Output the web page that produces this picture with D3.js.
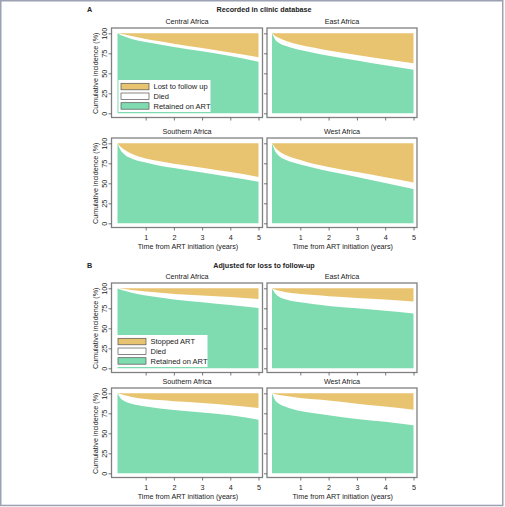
<!DOCTYPE html>
<html>
<head>
<meta charset="utf-8">
<script src="https://cdn.jsdelivr.net/npm/d3@7"></script>
<style>
  html, body { margin: 0; padding: 0; background: #fff; }
  svg { display: block; }
  text { font-family: "Liberation Sans", Arial, sans-serif; fill: #222; }
</style>
</head>
<body>
<svg id="chart" width="505" height="507"></svg>
<script>
// ---------- data ----------
const times = [0, 0.1, 0.25, 0.5, 1, 1.5, 2, 3, 4, 5];
const regions = ["Central Africa", "East Africa", "Southern Africa", "West Africa"];
const yTicks = [0, 25, 50, 75, 100];
const xTicks = [1, 2, 3, 4, 5];
const sectionLetters = ["A", "B"];
const sectionTitles = ["Recorded in clinic database", "Adjusted for loss to follow-up"];
const legendA = ["Lost to follow up", "Died", "Retained on ART"];
const legendB = ["Stopped ART", "Died", "Retained on ART"];

// Panel A: recorded in clinic database (retained = top of green; alive = retained + died)
const retainedRecCentral  = [100, 98, 96, 93, 89, 86, 83, 77.5, 71.5, 64.5];
const aliveRecCentral     = [100, 99.5, 98.5, 96.5, 93, 90, 87, 81.5, 76, 70];
const retainedRecEast     = [100, 93, 88, 84, 79, 75.5, 72, 66, 60, 54.5];
const aliveRecEast        = [100, 97, 94, 90.5, 85.5, 82, 78.5, 73, 67.5, 62.5];
const retainedRecSouthern = [100, 92, 86, 81, 76, 72, 69, 63.5, 58, 52];
const aliveRecSouthern    = [100, 96, 92, 87, 81, 77.5, 74.5, 69.5, 64, 58];
const retainedRecWest     = [100, 91, 84, 79, 73.5, 69, 65, 58, 50.5, 43];
const aliveRecWest        = [100, 95, 90, 85, 79, 74, 70.5, 64, 57.5, 51];

// Panel B: adjusted for loss to follow-up
const retainedAdjCentral  = [100, 98.5, 97, 94.5, 91, 88.5, 86, 82.5, 79, 75.5];
const aliveAdjCentral     = [100, 99.7, 99.2, 98, 96, 94.5, 93, 91, 89, 86.7];
const retainedAdjEast     = [100, 94, 89.5, 86, 82.5, 80, 78, 75, 72, 68.5];
const aliveAdjEast        = [100, 98.5, 97, 95, 93, 91.5, 90, 88, 86, 83.5];
const retainedAdjSouthern = [100, 94, 90, 87, 83.5, 81, 79, 76, 72.5, 67];
const aliveAdjSouthern    = [100, 99, 97.5, 95.5, 93, 91.5, 90, 88, 85, 81.5];
const retainedAdjWest     = [100, 92, 87, 83, 78, 75, 72.5, 68, 64.5, 60];
const aliveAdjWest        = [100, 99, 98, 96.5, 94, 92.5, 91, 87, 83.5, 79.5];

const panelsData = [
  [[retainedRecCentral, aliveRecCentral], [retainedRecEast, aliveRecEast],
   [retainedRecSouthern, aliveRecSouthern], [retainedRecWest, aliveRecWest]],
  [[retainedAdjCentral, aliveAdjCentral], [retainedAdjEast, aliveAdjEast],
   [retainedAdjSouthern, aliveAdjSouthern], [retainedAdjWest, aliveAdjWest]]
];

// ---------- layout / style ----------
const GOLD = "#e9c470", GREEN = "#7fdcb0";
const cols = [
  { fl: 111.5, fr: 262.5, x0: 117.5, x5: 258.5 },
  { fl: 267,   fr: 417,   x0: 272,   x5: 413.5 }
];
const rowTops = [[28, 138], [283, 388]];
const frameH = 89.5;

const svg = d3.select("#chart");

// outer page frame
svg.append("rect").attr("x", 0.75).attr("y", 0.75).attr("width", 502).attr("height", 504.7)
  .attr("fill", "none").attr("stroke", "#9ca2b2").attr("stroke-width", 1.5);

sectionLetters.forEach((letter, s) => {
  const titleY = s === 0 ? 11.7 : 267.5;
  svg.append("text").attr("x", 87).attr("y", titleY)
    .attr("font-size", 7.2).attr("font-weight", "bold").text(letter);
  svg.append("text").attr("x", 264).attr("y", titleY).attr("text-anchor", "middle")
    .attr("font-size", 7.2).attr("font-weight", "bold").text(sectionTitles[s]);

  regions.forEach((reg, i) => {
    const r = Math.floor(i / 2), c = i % 2;
    const col = cols[c];
    const top = rowTops[s][r];
    const bottom = top + frameH;
    const x = d3.scaleLinear().domain([0, 5]).range([col.x0, col.x5]);
    const y = d3.scaleLinear().domain([0, 100]).range([top + 85.3, top + 5.3]);
    const [ret, alive] = panelsData[s][i];
    const pts = times.map((t, k) => ({ t, ret: ret[k], alive: alive[k] }));

    const g = svg.append("g");
    // gold: from alive to 100
    g.append("path").datum(pts)
      .attr("fill", GOLD)
      .attr("d", d3.area().curve(d3.curveMonotoneX)
        .x(d => x(d.t)).y0(d => y(d.alive)).y1(() => y(100)));
    // green: from 0 to retained
    g.append("path").datum(pts)
      .attr("fill", GREEN)
      .attr("d", d3.area().curve(d3.curveMonotoneX)
        .x(d => x(d.t)).y0(() => y(0)).y1(d => y(d.ret)));

    // frame
    g.append("rect").attr("x", col.fl).attr("y", top)
      .attr("width", col.fr - col.fl).attr("height", frameH)
      .attr("fill", "none").attr("stroke", "#808080").attr("stroke-width", 1.3);

    // subtitle
    g.append("text").attr("x", (col.fl + col.fr) / 2).attr("y", top - 4)
      .attr("text-anchor", "middle").attr("font-size", 7.2).text(reg);

    // y axis
    const ya = g.append("g").attr("transform", `translate(${col.fl},0)`)
      .call(d3.axisLeft(y).tickValues(yTicks).tickSize(3).tickFormat(d => String(d)));
    ya.select(".domain").remove();
    ya.selectAll(".tick line").attr("stroke", "#555").attr("stroke-width", 0.8);
    if (c === 0) {
      ya.selectAll(".tick text")
        .attr("transform", "rotate(-90)")
        .attr("x", 0).attr("y", -4.5).attr("dy", 0)
        .attr("text-anchor", "middle")
        .attr("font-size", 7.2).attr("font-family", "Liberation Sans, Arial, sans-serif")
        .attr("fill", "#222");
      g.append("text")
        .attr("transform", `translate(98,${(y(0) + y(100)) / 2}) rotate(-90)`)
        .attr("text-anchor", "middle").attr("font-size", 7.2)
        .text("Cumulative incidence (%)");
    } else {
      ya.selectAll(".tick text").remove();
    }

    // x axis
    const xa = g.append("g").attr("transform", `translate(0,${bottom})`)
      .call(d3.axisBottom(x).tickValues(xTicks).tickSize(3).tickFormat(d => String(d)));
    xa.select(".domain").remove();
    xa.selectAll(".tick line").attr("stroke", "#555").attr("stroke-width", 0.8);
    if (r === 1) {
      xa.selectAll(".tick text").attr("y", 12).attr("dy", 0)
        .attr("font-size", 7.2).attr("font-family", "Liberation Sans, Arial, sans-serif")
        .attr("fill", "#222");
      g.append("text").attr("x", (col.x0 + col.x5) / 2).attr("y", bottom + 21.5)
        .attr("text-anchor", "middle").attr("font-size", 7.2)
        .text("Time from ART initiation (years)");
    } else {
      xa.selectAll(".tick text").remove();
    }

    // legend in first panel of each section
    if (i === 0) {
      const labels = s === 0 ? legendA : legendB;
      const lx = col.fl + 5 + (s === 0 ? 2 : -1), ly = top + 52;
      const lg = g.append("g");
      lg.append("rect").attr("x", lx).attr("y", ly).attr("width", 92).attr("height", 32)
        .attr("fill", "#fff");
      const fills = [GOLD, "#fff", GREEN];
      labels.forEach((lab, k) => {
        const sy = ly + 3.3 + k * 9.7;
        lg.append("rect").attr("x", lx + 2.5).attr("y", sy)
          .attr("width", 28).attr("height", 6.5)
          .attr("fill", fills[k]).attr("stroke", "#555").attr("stroke-width", 0.7);
        lg.append("text").attr("x", lx + 35).attr("y", sy + 6)
          .attr("font-size", 7.5).text(lab);
      });
    }
  });
});
</script>
</body>
</html>
